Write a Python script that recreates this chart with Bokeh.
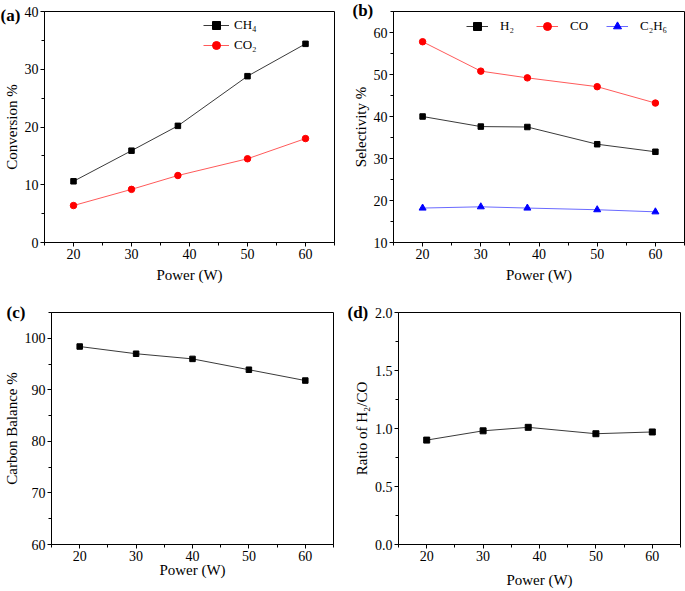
from bokeh.plotting import figure
from bokeh.models import FixedTicker, Legend, LegendItem, CustomJSTickFormatter
from bokeh.layouts import row, column
from bokeh.embed import file_html
from bokeh.resources import INLINE

FONT = "Liberation Serif"

# ---- data ----
power_ab = [20, 30, 38, 50, 60]
power_c = [20, 30, 40, 50, 60]
power_d = [20, 30, 38, 50, 60]

conv_ch4 = [10.6, 15.9, 20.2, 28.8, 34.4]
conv_co2 = [6.4, 9.2, 11.6, 14.5, 18.0]

sel_h2 = [40.0, 37.6, 37.5, 33.4, 31.6]
sel_co = [57.8, 50.8, 49.2, 47.1, 43.2]
sel_c2h6 = [18.2, 18.5, 18.2, 17.8, 17.3]

carbon_balance = [98.4, 97.0, 96.0, 93.9, 91.8]

ratio_h2_co = [0.90, 0.98, 1.01, 0.955, 0.97]

x_ticks = [20, 30, 40, 50, 60]
x_minor = [15, 25, 35, 45, 55, 65]


def make_fig(w, h, mbl, mbr, mbt, mbb, yr, yticks, yminor, ylabel, xlabel_standoff=5):
    p = figure(width=w, height=h, x_range=(15, 65), y_range=yr,
               output_backend="svg", toolbar_location=None,
               min_border_left=mbl, min_border_right=mbr,
               min_border_top=mbt, min_border_bottom=mbb)
    p.xgrid.visible = False
    p.ygrid.visible = False
    p.outline_line_color = "black"
    p.outline_line_width = 1
    p.outline_line_alpha = 1
    p.background_fill_color = "white"
    p.border_fill_color = "white"
    p.xaxis.ticker = FixedTicker(ticks=x_ticks, minor_ticks=x_minor)
    p.yaxis.ticker = FixedTicker(ticks=yticks, minor_ticks=yminor)
    for ax in (p.xaxis[0], p.yaxis[0]):
        ax.major_tick_in = 0
        ax.major_tick_out = 4
        ax.minor_tick_in = 0
        ax.minor_tick_out = 3
        ax.axis_line_color = "black"
        ax.major_tick_line_color = "black"
        ax.minor_tick_line_color = "black"
        ax.major_label_text_font = FONT
        ax.major_label_text_font_size = "14px"
        ax.major_label_text_color = "black"
        ax.axis_label_text_font = FONT
        ax.axis_label_text_font_size = "15px"
        ax.axis_label_text_font_style = "normal"
        ax.axis_label_text_color = "black"
        ax.major_label_standoff = 2
    p.xaxis.axis_label = "Power (W)"
    p.xaxis.axis_label_standoff = xlabel_standoff
    p.yaxis.axis_label = ylabel
    p.yaxis.axis_label_standoff = 2
    return p


def panel_label(p, text, offset, standoff):
    t = p.title
    t.text = text
    t.align = "left"
    t.vertical_align = "bottom"
    t.offset = offset
    t.standoff = standoff
    t.text_font = FONT
    t.text_font_size = "17px"
    t.text_font_style = "bold"
    t.text_color = "black"


def style_legend(leg, loc, orientation="vertical", glyph_w=26, standoff=5, spacing=0):
    leg.location = loc
    leg.orientation = orientation
    leg.border_line_color = None
    leg.background_fill_alpha = 0
    leg.padding = 0
    leg.margin = 0
    leg.spacing = spacing
    leg.glyph_width = glyph_w
    leg.glyph_height = 20
    leg.label_height = 20
    leg.label_standoff = standoff
    leg.label_text_font = FONT
    leg.label_text_font_size = "13px"
    leg.label_text_color = "black"


BLACK_LINE = "#3a3a3a"
RED_LINE = "#ff5a5a"
BLUE_LINE = "#6a6aff"

# ---- (a) ----
pa = make_fig(345, 295, 43, 11, 11, 53, (0, 40), [0, 10, 20, 30, 40], [5, 15, 25, 35],
              "Conversion %")
la1 = pa.line(power_ab, conv_ch4, line_color=BLACK_LINE, line_width=1)
ma1 = pa.scatter(power_ab, conv_ch4, marker="square", size=5.5, fill_color="black", line_color="black")
la2 = pa.line(power_ab, conv_co2, line_color=RED_LINE, line_width=1)
ma2 = pa.scatter(power_ab, conv_co2, marker="circle", size=6.5, fill_color="red", line_color="red")
lega = Legend(items=[LegendItem(label="CH\u2084", renderers=[la1, ma1]),
                     LegendItem(label="CO\u2082", renderers=[la2, ma2])])
style_legend(lega, (159, 231 - 4 - 40))
pa.add_layout(lega)
panel_label(pa, "(a)", -44, -27)

# ---- (b) ----
pb = make_fig(340, 295, 48, 1, 11, 53, (10, 65), [10, 20, 30, 40, 50, 60], [15, 25, 35, 45, 55, 65],
              "Selectivity %")
lb1 = pb.line(power_ab, sel_h2, line_color=BLACK_LINE, line_width=1)
mb1 = pb.scatter(power_ab, sel_h2, marker="square", size=5.5, fill_color="black", line_color="black")
lb2 = pb.line(power_ab, sel_co, line_color=RED_LINE, line_width=1)
mb2 = pb.scatter(power_ab, sel_co, marker="circle", size=6.5, fill_color="red", line_color="red")
lb3 = pb.line(power_ab, sel_c2h6, line_color=BLUE_LINE, line_width=1)
mb3 = pb.scatter(power_ab, sel_c2h6, marker="triangle", size=7, fill_color="blue", line_color="blue")
legb = Legend(items=[LegendItem(label="H\u2082", renderers=[lb1, mb1]),
                     LegendItem(label="CO", renderers=[lb2, mb2]),
                     LegendItem(label="C\u2082H\u2086", renderers=[lb3, mb3])])
style_legend(legb, (73, 231 - 5 - 20), orientation="horizontal", glyph_w=22, standoff=12, spacing=16)
pb.add_layout(legb)
panel_label(pb, "(b)", -41, -16)

# ---- (c) ----
pc = make_fig(345, 296, 50, 12, 17, 47, (60, 105), [60, 70, 80, 90, 100], [65, 75, 85, 95, 105],
              "Carbon Balance %", xlabel_standoff=-2)
pc.line(power_c, carbon_balance, line_color=BLACK_LINE, line_width=1)
pc.scatter(power_c, carbon_balance, marker="square", size=5.5, fill_color="black", line_color="black")
panel_label(pc, "(c)", -45, -18)

# ---- (d) ----
pd_ = make_fig(340, 296, 53, 5, 17, 47, (0, 2.0), [0.0, 0.5, 1.0, 1.5, 2.0],
               [0.25, 0.75, 1.25, 1.75], "Ratio of H\u2082/CO", xlabel_standoff=8)
pd_.yaxis[0].formatter = CustomJSTickFormatter(code="return tick.toFixed(1);")
pd_.line(power_d, ratio_h2_co, line_color=BLACK_LINE, line_width=1)
pd_.scatter(power_d, ratio_h2_co, marker="square", size=6, fill_color="black", line_color="black")
panel_label(pd_, "(d)", -51, -18)

layout = column(row(pa, pb, spacing=0), row(pc, pd_, spacing=0), spacing=0)

open("out.html", "w").write(file_html(layout, INLINE))
